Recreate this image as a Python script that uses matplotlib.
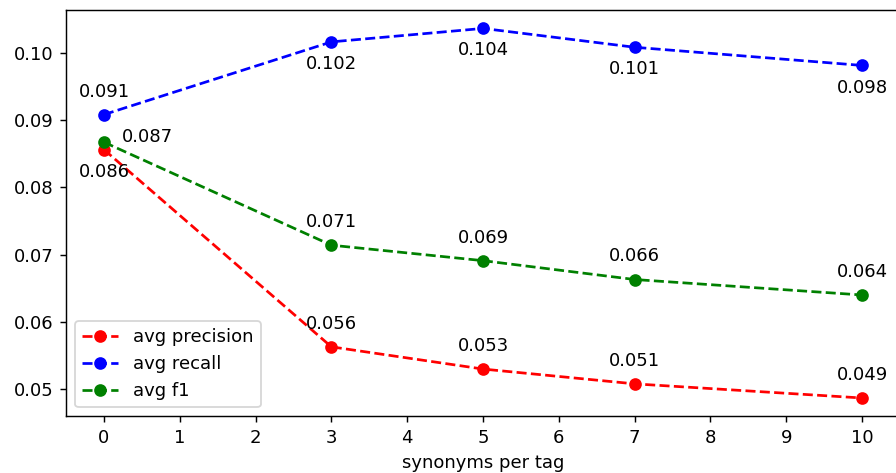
import matplotlib
matplotlib.use('Agg')
import matplotlib.pyplot as plt

synonyms = [0, 3, 5, 7, 10]
avg_precision = [0.0856, 0.0563, 0.0530, 0.0508, 0.0487]
avg_recall    = [0.0908, 0.1016, 0.1036, 0.1008, 0.0981]
avg_f1        = [0.0867, 0.0714, 0.0691, 0.0663, 0.0640]

DPI = 130
fig = plt.figure(figsize=(896 / DPI, 473 / DPI), dpi=DPI)
ax = fig.add_axes([0.0737, 0.1195, 0.9308, 0.8595])

ax.plot(synonyms, avg_precision, "o--", color="red", label="avg precision")
ax.plot(synonyms, avg_recall, "o--", color="blue", label="avg recall")
ax.plot(synonyms, avg_f1, "o--", color="green", label="avg f1")

# labels: first point of each series is placed differently
for i, (x, p, r, f) in enumerate(zip(synonyms, avg_precision, avg_recall, avg_f1)):
    if i == 0:
        ax.annotate(f"{p:.3f}", (x, p), xytext=(0, -15), textcoords="offset points", ha="center")
        ax.annotate(f"{r:.3f}", (x, r), xytext=(0, 10), textcoords="offset points", ha="center")
        ax.annotate(f"{f:.3f}", (x, f), xytext=(10, 0), textcoords="offset points", ha="left")
    else:
        ax.annotate(f"{p:.3f}", (x, p), xytext=(0, 10), textcoords="offset points", ha="center")
        ax.annotate(f"{r:.3f}", (x, r), xytext=(0, -15), textcoords="offset points", ha="center")
        ax.annotate(f"{f:.3f}", (x, f), xytext=(0, 10), textcoords="offset points", ha="center")

ax.set_xticks(range(11))
ax.set_xlabel("synonyms per tag")
ax.legend(loc="lower left")

fig.savefig("out.png", dpi=DPI)
